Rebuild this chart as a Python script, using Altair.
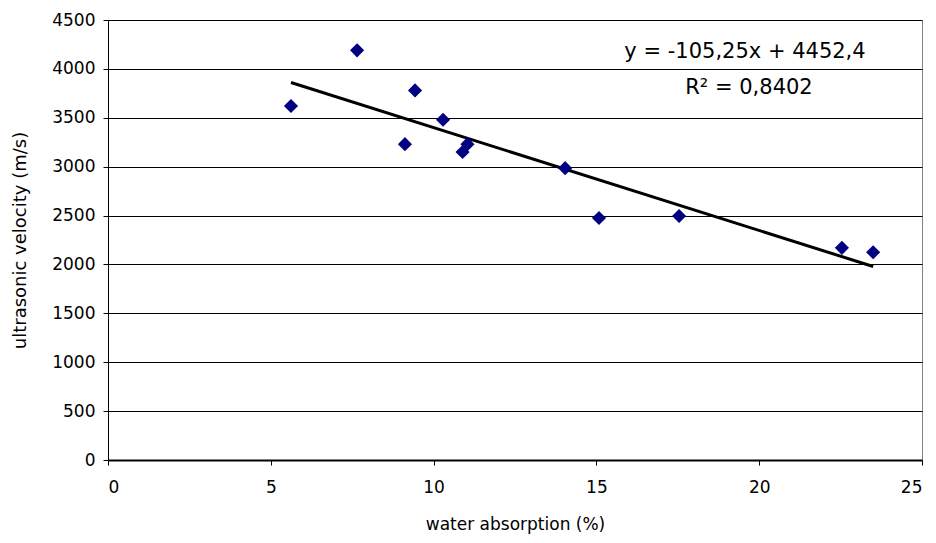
import altair as alt
import pandas as pd

# data
water_absorption = [5.62, 7.65, 9.12, 9.43, 10.29, 10.89, 11.04, 14.04, 15.08, 17.54, 22.54, 23.50]
velocity = [3620, 4190, 3230, 3780, 3480, 3150, 3230, 2985, 2475, 2495, 2170, 2125]
slope = -105.25
intercept = 4452.4
eq_lines = ["y = -105,25x + 4452,4", "R² = 0,8402"]

pts = pd.DataFrame({"x": water_absorption, "y": velocity})
tx = [min(water_absorption), max(water_absorption)]
trend = pd.DataFrame({"x": tx, "y": [slope * v + intercept for v in tx]})

FONT = "DejaVu Sans"

xs = alt.Scale(domain=[0, 25], nice=False, zero=False)
ys = alt.Scale(domain=[0, 4500], nice=False, zero=False)

xaxis = alt.Axis(values=[0, 5, 10, 15, 20, 25], title="water absorption (%)", grid=False, format="d",
                 domainColor="black", domainWidth=2, tickColor="black", tickSize=5,
                 labelFont=FONT, labelFontSize=17, labelColor="black", labelPadding=14,
                 titleFont=FONT, titleFontSize=17, titleFontWeight="normal", titleColor="black",
                 titleX=407, titleY=64, titleAlign="center", titleBaseline="middle")
yaxis = alt.Axis(values=list(range(0, 4501, 500)), title="ultrasonic velocity (m/s)", grid=True, format="d",
                 gridColor="black", gridWidth=1, gridOpacity=1,
                 domainColor="black", domainWidth=1, tickColor="black", tickSize=5,
                 labelFont=FONT, labelFontSize=17, labelColor="black", labelPadding=8,
                 titleFont=FONT, titleFontSize=18, titleFontWeight="normal", titleColor="black",
                 titleX=-88, titleY=220, titleAngle=-90, titleAlign="center", titleBaseline="middle")

points = alt.Chart(pts).mark_point(shape="diamond", filled=True, color="#000080", size=200, opacity=1).encode(
    x=alt.X("x:Q", scale=xs, axis=xaxis),
    y=alt.Y("y:Q", scale=ys, axis=yaxis),
)

line = alt.Chart(trend).mark_line(color="black", strokeWidth=3).encode(
    x=alt.X("x:Q", scale=xs),
    y=alt.Y("y:Q", scale=ys),
)

t1 = alt.Chart(pd.DataFrame({"t": [eq_lines[0]]})).mark_text(
    font=FONT, fontSize=21, color="black", align="center", baseline="middle"
).encode(text="t:N", x=alt.value(637), y=alt.value(32))
t2 = alt.Chart(pd.DataFrame({"t": [eq_lines[1]]})).mark_text(
    font=FONT, fontSize=21, color="black", align="center", baseline="middle"
).encode(text="t:N", x=alt.value(641), y=alt.value(68))

chart = alt.layer(line, points, t1, t2).properties(
    width=814, height=440,
    autosize=alt.AutoSizeParams(type="none"),
    padding={"left": 108, "top": 20, "right": 14, "bottom": 83},
    background="white",
).configure_view(stroke="#808080", strokeWidth=1)

chart.save("out.html", embed_options={"renderer": "svg", "actions": False})
